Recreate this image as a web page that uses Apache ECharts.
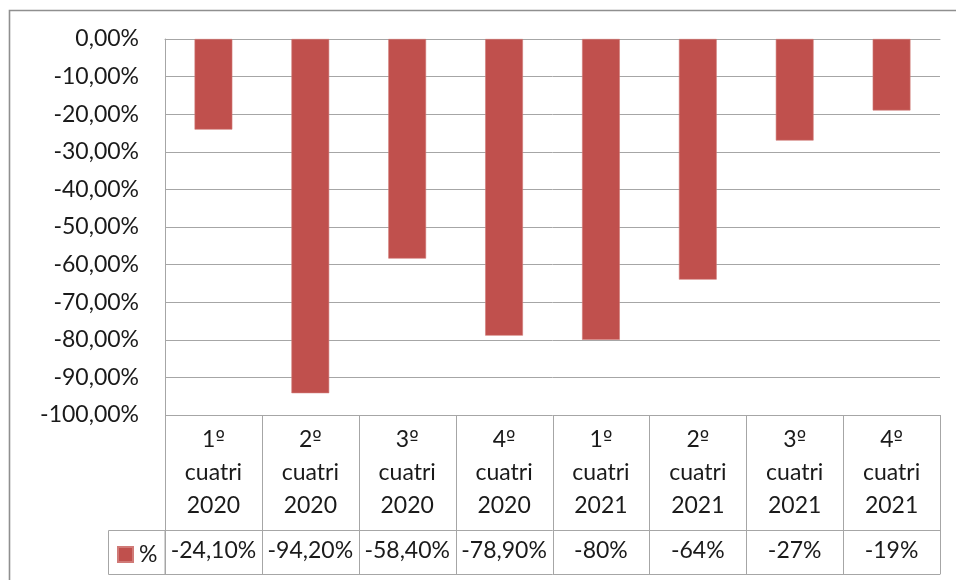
<!DOCTYPE html>
<html>
<head>
<meta charset="utf-8">
<script src="https://cdn.jsdelivr.net/npm/echarts@6/dist/echarts.min.js"></script>
<style>
  html, body { margin: 0; padding: 0; background: #fff; }
  #chart { width: 956px; height: 580px; }
</style>
</head>
<body>
<div id="chart"></div>
<script>
// Quarter-by-period change, with a data table under the category axis
const categories = ['1º\ncuatri\n2020', '2º\ncuatri\n2020', '3º\ncuatri\n2020', '4º\ncuatri\n2020',
                    '1º\ncuatri\n2021', '2º\ncuatri\n2021', '3º\ncuatri\n2021', '4º\ncuatri\n2021'];
const values = [-24.1, -94.2, -58.4, -78.9, -80, -64, -27, -19];
const tableLabels = ['-24,10%', '-94,20%', '-58,40%', '-78,90%', '-80%', '-64%', '-27%', '-19%'];
const seriesName = '%';

const FONT = 'Lato';
const TEXT = '#1a1a1a';
const LINE = '#a6a6a6';
const BAR = '#C0504D';

const G = { left: 165, top: 39, right: 16, bottom: 165 };
const W = 956, H = 580;
const plotBottom = H - G.bottom;       // 415
const valueRowTop = plotBottom + 115;  // 530
const tableBottom = plotBottom + 159;  // 574

const chart = echarts.init(document.getElementById('chart'), null, { renderer: 'canvas' });

// vertical rules of the data table, one at each category boundary
const cellW = (W - G.left - G.right) / categories.length;
const tableRules = [];
for (let i = 0; i <= categories.length; i++) {
  const x = Math.round(G.left + i * cellW) + 0.5;
  tableRules.push({
    type: 'line', silent: true,
    shape: { x1: x, y1: plotBottom, x2: x, y2: tableBottom },
    style: { stroke: LINE, lineWidth: 1 }
  });
}

chart.setOption({
  backgroundColor: '#fff',
  animation: false,
  textStyle: { fontFamily: FONT },
  grid: { left: G.left, top: G.top, right: G.right, bottom: G.bottom },
  legend: {
    data: [seriesName],
    left: 117, top: valueRowTop + 13,
    itemWidth: 15, itemHeight: 15, itemGap: 6,
    icon: 'rect',
    padding: 0,
    textStyle: { fontFamily: FONT, fontSize: 23, color: TEXT, padding: [0, 0, 0, 1] }
  },
  xAxis: [
    {
      type: 'category',
      data: categories,
      position: 'bottom',
      axisLine: { show: true, lineStyle: { color: LINE, width: 1 } },
      axisTick: { show: false },
      axisLabel: {
        interval: 0, margin: 8, fontFamily: FONT, fontSize: 23, color: TEXT,
        lineHeight: 33, align: 'center',
        // the ordinal sign is drawn in a face whose º carries the underline
        formatter: v => v.replace('º', '{o|º}'),
        rich: {
          o: { fontFamily: 'DejaVu Sans', fontSize: 20, color: TEXT, lineHeight: 33 }
        }
      },
      splitLine: { show: false }
    },
    {
      type: 'category',
      data: tableLabels,
      position: 'bottom',
      offset: 115,
      axisLine: { show: true, lineStyle: { color: LINE, width: 1 } },
      axisTick: { show: false },
      axisLabel: { interval: 0, margin: 10, fontFamily: FONT, fontSize: 23, color: TEXT, lineHeight: 22 }
    },
    {
      type: 'category',
      data: tableLabels,
      position: 'bottom',
      offset: 159,
      axisLine: { show: true, lineStyle: { color: LINE, width: 1 } },
      axisTick: { show: false },
      axisLabel: { show: false }
    }
  ],
  yAxis: {
    type: 'value',
    min: -100, max: 0, interval: 10,
    axisLine: { show: true, lineStyle: { color: LINE, width: 1 } },
    axisTick: { show: false },
    axisLabel: {
      margin: 26, fontFamily: FONT, fontSize: 23, color: TEXT,
      formatter: v => v.toFixed(2).replace('.', ',') + '%'
    },
    splitLine: { show: true, lineStyle: { color: LINE, width: 1 } }
  },
  series: [{
    name: seriesName,
    type: 'bar',
    xAxisIndex: 0,
    data: values,
    barWidth: '39%',
    itemStyle: { color: BAR, borderColor: '#d07a77', borderWidth: 0.6 }
  }],
  graphic: [
    // chart frame
    { type: 'rect', shape: { x: 9.5, y: 10.5, width: 980, height: 600 },
      style: { fill: null, stroke: '#8f8f8f', lineWidth: 1.6 }, silent: true },
    // legend cell of the data table
    { type: 'rect', shape: { x: 108.5, y: valueRowTop + 0.5, width: G.left - 108.5, height: tableBottom - valueRowTop },
      style: { fill: null, stroke: LINE, lineWidth: 1 }, silent: true }
  ].concat(tableRules)
});
</script>
</body>
</html>
